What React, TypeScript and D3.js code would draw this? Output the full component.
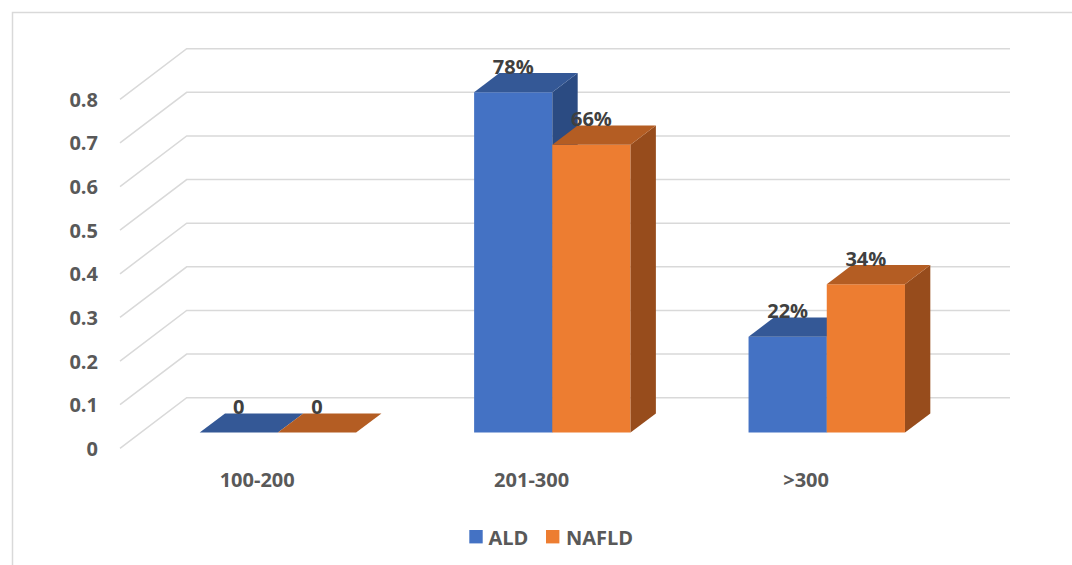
import React from 'react';
import * as d3 from 'd3';

const categories = ['100-200', '201-300', '>300'];
const seriesNames = ['ALD', 'NAFLD'];
const aldValues = [0, 0.78, 0.22];
const nafldValues = [0, 0.66, 0.34];
const dataLabels = [['0', '78%', '22%'], ['0', '66%', '34%']];
const yTicks = [0, 0.1, 0.2, 0.3, 0.4, 0.5, 0.6, 0.7, 0.8];

const W = 1072;
const H = 565;
// full floor depth projected onto the screen
const DEPTH_X = 66.7;
const DEPTH_Y = 50.6;
const Z_FRONT = 0.31;
const Z_BACK = 0.69;

const colors = [
  { front: '#4472C4', top: '#345896', side: '#2B4B82' },
  { front: '#ED7D31', top: '#B45D23', side: '#974C1C' },
];

const font = "'Open Sans', 'DejaVu Sans', sans-serif";

export default function App() {
  const y = d3.scaleLinear().domain([0, 0.8]).range([448.3, 99.3]);
  const x0 = d3.scaleBand().domain(categories).range([120, 943.3]).paddingInner(0.43).paddingOuter(0.215);
  const x1 = d3.scaleBand().domain(seriesNames).range([0, x0.bandwidth()]);
  const series = [aldValues, nafldValues];

  const proj = (xw: number, v: number, z: number): [number, number] => [xw + z * DEPTH_X, y(v) - z * DEPTH_Y];
  const poly = (pts: [number, number][]) => pts.map((p) => p.join(',')).join(' ');

  const bars: React.ReactNode[] = [];
  const labels: React.ReactNode[] = [];
  categories.forEach((cat, ci) => {
    seriesNames.forEach((s, si) => {
      const v = series[si][ci];
      const xl = (x0(cat) as number) + (x1(s) as number);
      const xr = xl + x1.bandwidth();
      const c = colors[si];
      const fbl = proj(xl, 0, Z_FRONT);
      const fbr = proj(xr, 0, Z_FRONT);
      const ftl = proj(xl, v, Z_FRONT);
      const ftr = proj(xr, v, Z_FRONT);
      const btl = proj(xl, v, Z_BACK);
      const btr = proj(xr, v, Z_BACK);
      const bbr = proj(xr, 0, Z_BACK);
      bars.push(
        <g key={`${cat}-${s}`}>
          {v > 0 && <polygon points={poly([fbl, fbr, ftr, ftl])} fill={c.front} />}
          {v > 0 && <polygon points={poly([fbr, bbr, btr, ftr])} fill={c.side} />}
          <polygon points={poly([ftl, ftr, btr, btl])} fill={c.top} />
        </g>
      );
      labels.push(
        <text
          key={`l-${cat}-${s}`}
          x={(fbl[0] + fbr[0]) / 2}
          y={btl[1] - 6.5}
          textAnchor="middle"
          dominantBaseline="central"
          fontSize={20}
          fontWeight="bold"
          fill="#404040"
        >
          {dataLabels[si][ci]}
        </text>
      );
    });
  });

  return (
    <svg width={W} height={H} style={{ position: 'absolute', left: 0, top: 0, fontFamily: font }}>
      <rect x={0} y={0} width={W} height={H} fill="#fff" />
      <rect x={12.5} y={12.5} width={1100} height={600} fill="none" stroke="#D9D9D9" strokeWidth={1.5} />

      {/* gridlines: floor diagonal + back wall */}
      {yTicks.map((t) => {
        const a = proj(120, t, 0);
        const b = proj(120, t, 1);
        const e = proj(943.3, t, 1);
        return (
          <polyline
            key={t}
            points={poly([a, b, e])}
            fill="none"
            stroke="#D9D9D9"
            strokeWidth={1.5}
          />
        );
      })}

      {yTicks.map((t) => (
        <text key={`yt-${t}`} x={98} y={y(t)} textAnchor="end" dominantBaseline="central" fontSize={20} fontWeight="bold" fill="#595959">
          {t}
        </text>
      ))}

      {bars}
      {labels}

      {categories.map((cat) => (
        <text
          key={`c-${cat}`}
          x={(x0(cat) as number) + x0.bandwidth() / 2}
          y={479}
          textAnchor="middle"
          dominantBaseline="central"
          fontSize={20}
          fontWeight="bold"
          fill="#595959"
        >
          {cat}
        </text>
      ))}

      <g>
        <rect x={469.3} y={530} width={13.4} height={13.4} fill={colors[0].front} />
        <text x={488.5} y={537} dominantBaseline="central" fontSize={20} fontWeight="bold" fill="#595959">ALD</text>
        <rect x={546} y={530} width={13.4} height={13.4} fill={colors[1].front} />
        <text x={566} y={537} dominantBaseline="central" fontSize={20} fontWeight="bold" fill="#595959">NAFLD</text>
      </g>
    </svg>
  );
}
